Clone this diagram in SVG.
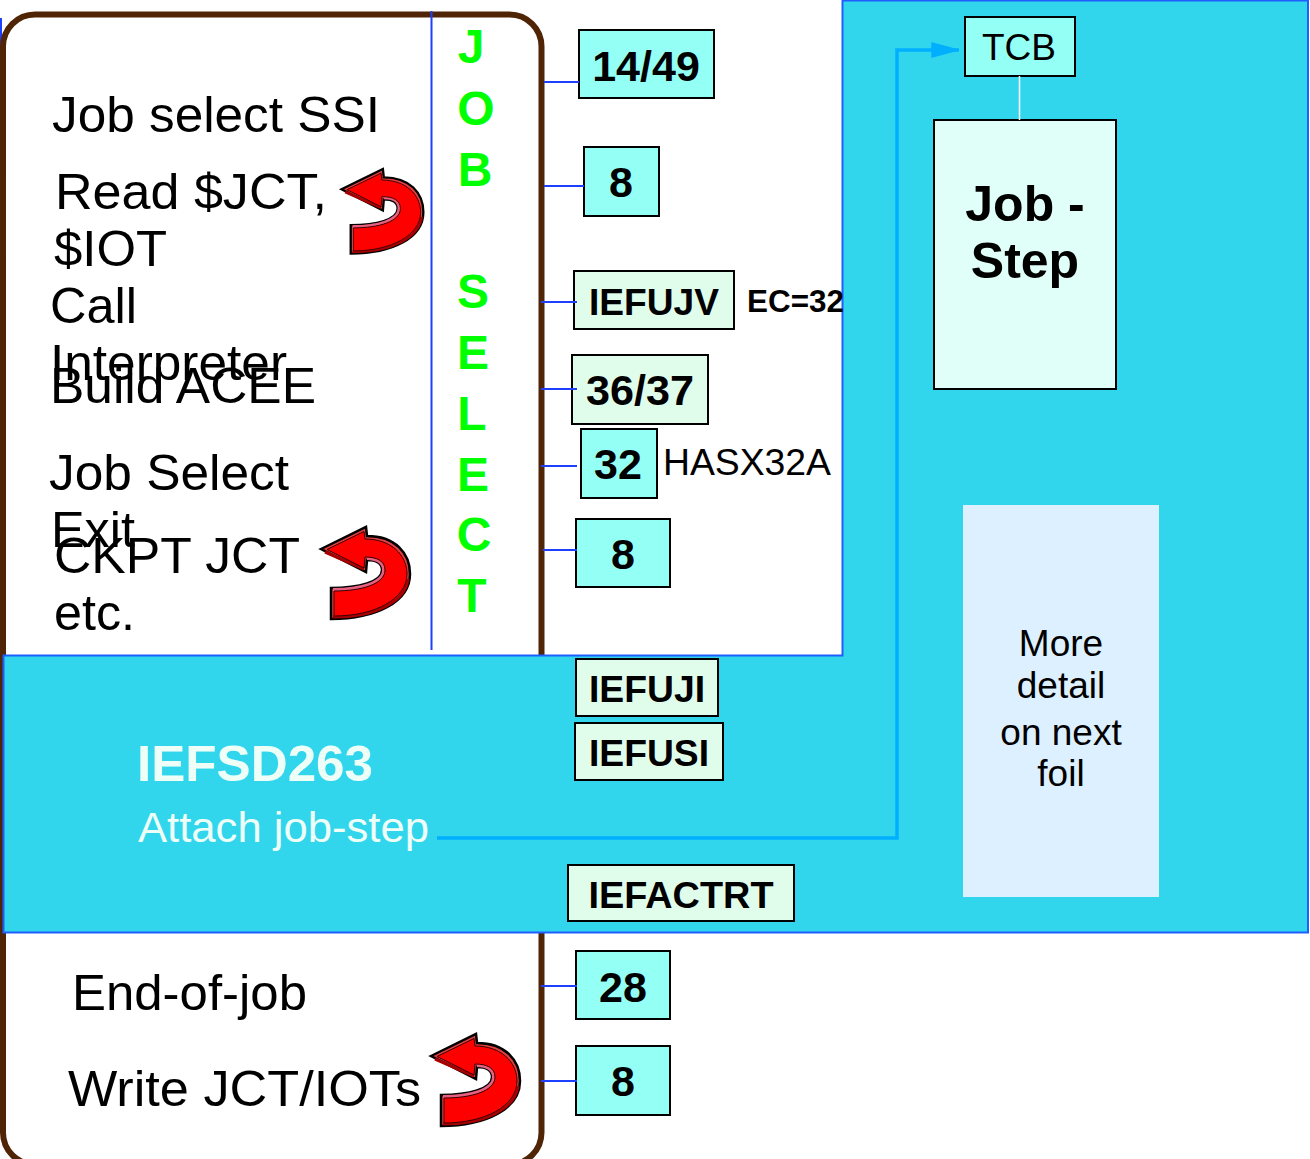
<svg xmlns="http://www.w3.org/2000/svg" width="1310" height="1159" viewBox="0 0 1310 1159">
<style>
text{font-family:"Liberation Sans",Arial,sans-serif;fill:#000}
.b{font-weight:bold}
.l{font-size:50px}
.box{stroke:#000;stroke-width:2}
.aq{fill:#94fff5}
.mt{fill:#e0fdec}
.c{stroke:#1f3fff;stroke-width:2;fill:none}
.bt{font-weight:bold;font-size:43px;text-anchor:middle}
.g{font-weight:bold;font-size:48px;fill:#00ff00;text-anchor:middle}
.band{fill:none;stroke-width:3}
</style>
<defs>
<g id="ua">
<path d="M0 22 L45 0 L46 9 C74 9 89 26 89 47 C89 75 55 92 10 92 L10 61 C38 61 61 55 61 43 C61 36 55 33 46 33 L45 45 Z" fill="#e24040" stroke="#000" stroke-width="2.500" stroke-linejoin="miter"/>
<path class="band" stroke="#a80000" d="M87 52 C84 75 54 90 12 90"/>
<path class="band" stroke="#a80000" d="M4 25 L43 42"/>
<path class="band" stroke="#e86080" d="M12 62.500 C39 62.500 62.500 56 62.500 43 C62.500 35 55 31.500 46 31.500"/>
<path d="M6 22.500 L43 4.500 L44 12 C70 12 86 28 86 47 C86 72 54 89 13 89 L13 64 C41 64 64 57 64 43 C64 34 56 30 44 30 L43 41 Z" fill="#ff0000" stroke="#300" stroke-width="1"/>
</g>
<marker id="ah" markerWidth="30" markerHeight="16" refX="28" refY="8" orient="auto" markerUnits="userSpaceOnUse"><path d="M1 1L27 8L1 15Z" fill="#00b0ff" stroke="#00b0ff" stroke-width="1.500" stroke-linejoin="round"/></marker>
</defs>
<rect width="1310" height="1159" fill="#fff"/>
<path d="M1 18 V46" stroke="#1f3fff" stroke-width="2" fill="none"/>
<rect id="panel" x="3" y="14.500" width="538.500" height="1150" rx="32" fill="#fff" stroke="#4f2506" stroke-width="6"/>
<path id="bg" d="M842.500 0.500H1308V932.500H3.500V655.500H842.500Z" fill="#31d6ed" stroke="#1f5fff" stroke-width="2"/>
<g id="labels-left">
<text class="l" x="52" y="132" textLength="328" lengthAdjust="spacingAndGlyphs">Job select SSI</text>
<text class="l" x="55" y="209" textLength="272" lengthAdjust="spacingAndGlyphs">Read $JCT,</text>
<text class="l" x="54" y="266" textLength="113" lengthAdjust="spacingAndGlyphs">$IOT</text>
<text class="l" x="50" y="323" textLength="87" lengthAdjust="spacingAndGlyphs">Call</text>
<text class="l" x="50" y="380" textLength="237" lengthAdjust="spacingAndGlyphs">Interpreter</text>
<text class="l" x="50" y="403" textLength="266" lengthAdjust="spacingAndGlyphs">Build ACEE</text>
<text class="l" x="49" y="490" textLength="240" lengthAdjust="spacingAndGlyphs">Job Select</text>
<text class="l" x="51" y="547" textLength="84" lengthAdjust="spacingAndGlyphs">Exit</text>
<text class="l" x="54" y="573" textLength="246" lengthAdjust="spacingAndGlyphs">CKPT JCT</text>
<text class="l" x="54" y="630" textLength="81" lengthAdjust="spacingAndGlyphs">etc.</text>
<text class="l" x="72" y="1010" textLength="235" lengthAdjust="spacingAndGlyphs">End-of-job</text>
<text class="l" x="68" y="1106" textLength="353" lengthAdjust="spacingAndGlyphs">Write JCT/IOTs</text>
</g>
<g id="job-select">
<text class="g" x="471" y="63">J</text>
<text class="g" x="476" y="125">O</text>
<text class="g" x="475" y="186">B</text>
<text class="g" x="473" y="308">S</text>
<text class="g" x="473" y="369">E</text>
<text class="g" x="472" y="430">L</text>
<text class="g" x="473" y="491">E</text>
<text class="g" x="474" y="551">C</text>
<text class="g" x="472" y="612">T</text>
</g>
<g id="u1"><use href="#ua" transform="translate(341.500,169) scale(.92)"/></g>
<g id="u2"><use href="#ua" transform="translate(321,527)"/></g>
<g id="u3"><use href="#ua" transform="translate(431,1034)"/></g>
<g id="n1449"><rect class="box aq" x="579" y="30" width="135" height="68"/><text class="bt" x="646" y="81">14/49</text></g>
<g id="n8a"><rect class="box aq" x="584" y="147" width="75" height="69"/><text class="bt" x="621" y="197">8</text></g>
<g id="iefujv"><rect class="box mt" x="574" y="271" width="160" height="58"/><text class="b" x="654" y="315" font-size="37" text-anchor="middle" textLength="130" lengthAdjust="spacingAndGlyphs">IEFUJV</text></g>
<text id="ec32" class="b" x="747" y="312" font-size="31" textLength="97" lengthAdjust="spacingAndGlyphs">EC=32</text>
<g id="n3637"><rect class="box mt" x="572" y="355" width="136" height="69"/><text class="bt" x="640" y="405" textLength="108" lengthAdjust="spacingAndGlyphs">36/37</text></g>
<g id="n32"><rect class="box aq" x="581" y="429" width="76" height="69"/><text class="bt" x="618" y="479">32</text></g>
<text id="hasx" x="663" y="475" font-size="37" textLength="168" lengthAdjust="spacingAndGlyphs">HASX32A</text>
<g id="n8b"><rect class="box aq" x="576" y="519" width="94" height="68"/><text class="bt" x="623" y="569">8</text></g>
<g id="iefuji"><rect class="box mt" x="576" y="659" width="142" height="57"/><text class="b" x="647" y="702" font-size="37" text-anchor="middle" textLength="116" lengthAdjust="spacingAndGlyphs">IEFUJI</text></g>
<g id="iefusi"><rect class="box mt" x="575" y="723" width="148" height="57"/><text class="b" x="649" y="766" font-size="37" text-anchor="middle" textLength="120" lengthAdjust="spacingAndGlyphs">IEFUSI</text></g>
<g id="iefactrt"><rect class="box mt" x="568" y="865" width="226" height="56"/><text class="b" x="681" y="908" font-size="37" text-anchor="middle" textLength="185" lengthAdjust="spacingAndGlyphs">IEFACTRT</text></g>
<g id="sd263"><text class="b" x="137" y="781" font-size="50" style="fill:#eefff8" textLength="236" lengthAdjust="spacingAndGlyphs">IEFSD263</text><text x="138" y="842" font-size="43" style="fill:#eefff8" textLength="291" lengthAdjust="spacingAndGlyphs">Attach job-step</text></g>
<g id="tcb"><rect class="box aq" x="965" y="17" width="110" height="59"/><text x="1019" y="60" font-size="37" text-anchor="middle">TCB</text></g>
<g id="jobstep"><rect class="box" x="934" y="120" width="182" height="269" fill="#e0fff9"/><text class="b" x="1025" y="221" font-size="50" text-anchor="middle">Job -</text><text class="b" x="1025" y="278" font-size="50" text-anchor="middle">Step</text></g>
<g id="more"><rect x="963" y="505" width="196" height="392" fill="#ddf0ff"/>
<g font-size="37"><text x="1061" y="656" text-anchor="middle">More</text><text x="1061" y="698" text-anchor="middle">detail</text><text x="1061" y="745" text-anchor="middle">on next</text><text x="1061" y="786" text-anchor="middle">foil</text></g></g>
<g id="n28"><rect class="box aq" x="576" y="951" width="94" height="68"/><text class="bt" x="623" y="1002">28</text></g>
<g id="n8c"><rect class="box aq" x="576" y="1046" width="94" height="69"/><text class="bt" x="623" y="1096">8</text></g>
<g id="connectors">
<path class="c" d="M431.500 11V650"/>
<path class="c" d="M544 82H579M544 186H584M541 302H577M541 389H577M541 466H577M543 550H577M541 986H577M541 1081H577"/>
<path d="M437 838H897V50H959" fill="none" stroke="#00b0ff" stroke-width="3.500" marker-end="url(#ah)"/>
<path d="M1019.500 76V120" stroke="#fff" stroke-width="1.500"/>
</g>
</svg>
